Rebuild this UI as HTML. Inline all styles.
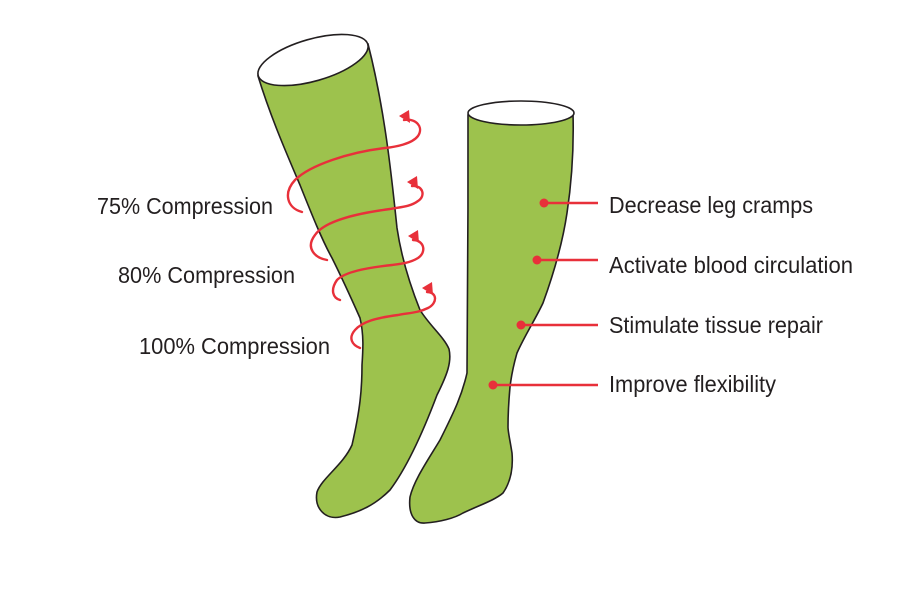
<!DOCTYPE html>
<html><head><meta charset="utf-8"><style>
html,body{margin:0;padding:0;background:#fff;}
svg{display:block;}
text{font-family:"Liberation Sans Narrow","Liberation Sans",sans-serif;font-size:23px;fill:#231f20;}
</style></head><body>
<svg width="900" height="600" viewBox="0 0 900 600" xmlns="http://www.w3.org/2000/svg">
<!-- left sock -->
<path d="M258,76 C270,115 285,150 300,185 C312,215 322,240 332,258 C343,280 352,300 360,318 C364,335 363,350 362,365 C362,390 360,410 352,445 C343,465 322,478 317,492 C314,508 325,520 340,517 C360,512 375,505 390,490 C405,470 420,440 437,395 C447,375 452,362 449,349 C444,337 430,326 420,310 C410,285 401,255 397,228 C392,180 385,110 368,44 Z" fill="#9dc24d" stroke="#231f20" stroke-width="1.6"/>
<ellipse cx="313" cy="60" rx="57" ry="21" transform="rotate(-16 313 60)" fill="#fff" stroke="#231f20" stroke-width="1.6"/>
<!-- right sock -->
<path d="M468,115 C468,200 468,300 467,373 C462,395 455,410 440,440 C428,460 414,480 410,497 C408,515 415,524 425,523 C440,522 455,518 463,513 C480,505 495,500 503,493 C512,480 513,465 512,453 C510,440 508,432 508,427 C508,410 509,398 510,387 C512,370 515,360 517,353 C525,335 535,320 543,303 C555,270 563,240 567,213 C572,180 574,150 573,113 Z" fill="#9dc24d" stroke="#231f20" stroke-width="1.6"/>
<ellipse cx="521" cy="113" rx="53" ry="12" fill="#fff" stroke="#231f20" stroke-width="1.6"/>
<!-- spirals -->
<g fill="none" stroke="#e8303a" stroke-width="2.4" stroke-linecap="round">
<path d="M404,120 C416,118 424,127 418,136 C412,144 395,147 385,148 C350,152 310,165 295,180 C283,193 287,208 302,212"/>
<path d="M412,186 C423,185 426,196 418,201 C410,207 400,207 390,209 C360,213 325,220 315,235 C305,248 315,258 327,260"/>
<path d="M413,240 C424,240 427,252 418,258 C410,263 400,264 392,265 C365,268 345,272 337,280 C330,290 333,298 340,300"/>
<path d="M427,292 C437,292 438,303 428,308 C418,313 408,313 398,315 C375,318 362,322 355,330 C348,338 352,345 360,348"/>
</g>
<g fill="#e8303a">
<path d="M399,116 L409,110 L410,123 Z"/>
<path d="M407,182 L417,176 L418,189 Z"/>
<path d="M408,236 L418,230 L419,243 Z"/>
<path d="M422,288 L432,282 L433,295 Z"/>
</g>
<!-- right connectors -->
<g stroke="#e8303a" stroke-width="2.4">
<line x1="544" y1="203" x2="598" y2="203"/>
<line x1="537" y1="260" x2="598" y2="260"/>
<line x1="521" y1="325" x2="598" y2="325"/>
<line x1="493" y1="385" x2="598" y2="385"/>
</g>
<g fill="#e8303a">
<circle cx="544" cy="203" r="4.5"/>
<circle cx="537" cy="260" r="4.5"/>
<circle cx="521" cy="325" r="4.5"/>
<circle cx="493" cy="385" r="4.5"/>
</g>
<!-- labels -->
<text x="97" y="214" textLength="176" lengthAdjust="spacingAndGlyphs">75% Compression</text>
<text x="118" y="283" textLength="177" lengthAdjust="spacingAndGlyphs">80% Compression</text>
<text x="139" y="354" textLength="191" lengthAdjust="spacingAndGlyphs">100% Compression</text>
<text x="609" y="213" textLength="204" lengthAdjust="spacingAndGlyphs">Decrease leg cramps</text>
<text x="609" y="273" textLength="244" lengthAdjust="spacingAndGlyphs">Activate blood circulation</text>
<text x="609" y="333" textLength="214" lengthAdjust="spacingAndGlyphs">Stimulate tissue repair</text>
<text x="609" y="392" textLength="167" lengthAdjust="spacingAndGlyphs">Improve flexibility</text>
</svg>
</body></html>
